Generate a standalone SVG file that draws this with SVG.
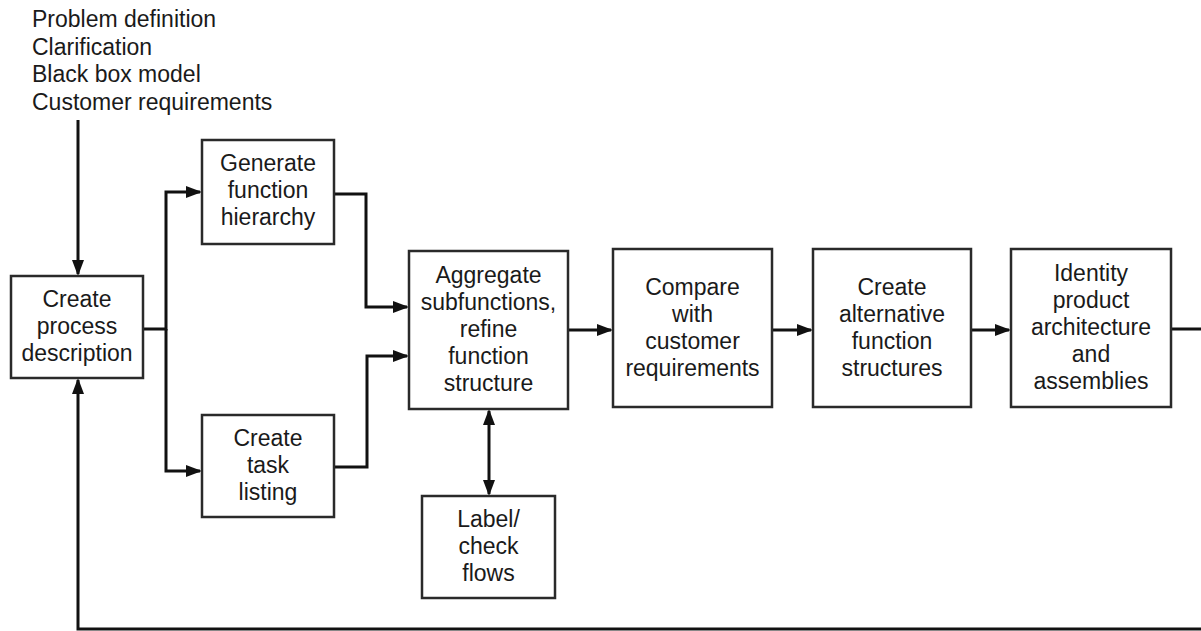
<svg xmlns="http://www.w3.org/2000/svg" width="1201" height="631" viewBox="0 0 1201 631">
  <style>
    .box { fill: #ffffff; stroke: #2a2a2a; stroke-width: 2.5; }
    .lbl { font-family: "Liberation Sans", Arial, sans-serif; font-size: 23px; fill: #1a1a1a; text-anchor: middle; }
    .note { font-family: "Liberation Sans", Arial, sans-serif; font-size: 23px; fill: #1a1a1a; }
    .wire { fill: none; stroke: #111111; stroke-width: 3; }
  </style>
  <defs>
    <marker id="arrow" markerUnits="userSpaceOnUse" markerWidth="16" markerHeight="12" refX="14" refY="6" orient="auto-start-reverse">
      <path d="M0,0 L16,6 L0,12 Z" fill="#111111"/>
    </marker>
  </defs>
  <rect width="1201" height="631" fill="#ffffff"/>

  <!-- input notes -->
  <g id="inputs">
    <text class="note" x="32" y="27">Problem definition</text>
    <text class="note" x="32" y="55">Clarification</text>
    <text class="note" x="32" y="82">Black box model</text>
    <text class="note" x="32" y="110">Customer requirements</text>
  </g>

  <!-- connectors -->
  <g id="connectors">
    <path class="wire" d="M78,120 V274" marker-end="url(#arrow)"/>
    <path class="wire" d="M143,329 H166 V192 H200" marker-end="url(#arrow)"/>
    <path class="wire" d="M166,329 V471 H200" marker-end="url(#arrow)"/>
    <path class="wire" d="M334,194 H366 V307 H407" marker-end="url(#arrow)"/>
    <path class="wire" d="M334,467 H367 V356 H407" marker-end="url(#arrow)"/>
    <path class="wire" d="M489,411 V494" marker-start="url(#arrow)" marker-end="url(#arrow)"/>
    <path class="wire" d="M568,330 H611" marker-end="url(#arrow)"/>
    <path class="wire" d="M772,330 H811" marker-end="url(#arrow)"/>
    <path class="wire" d="M971,330 H1009" marker-end="url(#arrow)"/>
    <path class="wire" d="M1171,329 H1203 M1203,629 H78 V380" marker-end="url(#arrow)"/>
  </g>

  <g id="create-process">
    <rect class="box" x="11" y="276" width="132" height="102"/>
    <text class="lbl" x="77" y="307">Create</text>
    <text class="lbl" x="77" y="334">process</text>
    <text class="lbl" x="77" y="361">description</text>
  </g>

  <g id="generate-hierarchy">
    <rect class="box" x="202" y="140" width="132" height="104"/>
    <text class="lbl" x="268" y="171">Generate</text>
    <text class="lbl" x="268" y="198">function</text>
    <text class="lbl" x="268" y="225">hierarchy</text>
  </g>

  <g id="task-listing">
    <rect class="box" x="202" y="415" width="132" height="102"/>
    <text class="lbl" x="268" y="446">Create</text>
    <text class="lbl" x="268" y="473">task</text>
    <text class="lbl" x="268" y="500">listing</text>
  </g>

  <g id="aggregate">
    <rect class="box" x="409" y="251" width="159" height="158"/>
    <text class="lbl" x="488.5" y="283">Aggregate</text>
    <text class="lbl" x="488.5" y="310">subfunctions,</text>
    <text class="lbl" x="488.5" y="337">refine</text>
    <text class="lbl" x="488.5" y="364">function</text>
    <text class="lbl" x="488.5" y="391">structure</text>
  </g>

  <g id="label-check">
    <rect class="box" x="422" y="496" width="133" height="102"/>
    <text class="lbl" x="488.5" y="527">Label/</text>
    <text class="lbl" x="488.5" y="554">check</text>
    <text class="lbl" x="488.5" y="581">flows</text>
  </g>

  <g id="compare">
    <rect class="box" x="613" y="249" width="159" height="158"/>
    <text class="lbl" x="692.5" y="295">Compare</text>
    <text class="lbl" x="692.5" y="322">with</text>
    <text class="lbl" x="692.5" y="349">customer</text>
    <text class="lbl" x="692.5" y="376">requirements</text>
  </g>

  <g id="alternatives">
    <rect class="box" x="813" y="249" width="158" height="158"/>
    <text class="lbl" x="892" y="295">Create</text>
    <text class="lbl" x="892" y="322">alternative</text>
    <text class="lbl" x="892" y="349">function</text>
    <text class="lbl" x="892" y="376">structures</text>
  </g>

  <g id="architecture">
    <rect class="box" x="1011" y="249" width="160" height="158"/>
    <text class="lbl" x="1091" y="281">Identity</text>
    <text class="lbl" x="1091" y="308">product</text>
    <text class="lbl" x="1091" y="335">architecture</text>
    <text class="lbl" x="1091" y="362">and</text>
    <text class="lbl" x="1091" y="389">assemblies</text>
  </g>
</svg>
